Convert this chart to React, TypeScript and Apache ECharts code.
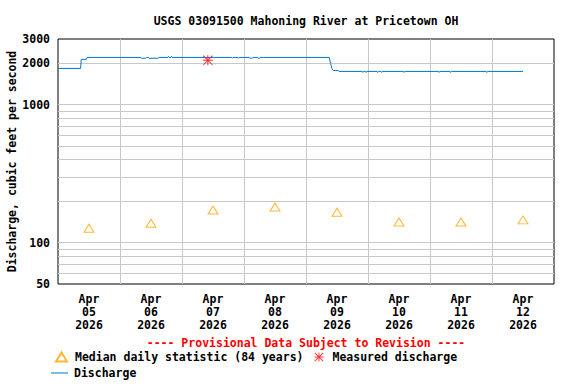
import React, { useEffect, useRef } from 'react';
import * as echarts from 'echarts';

const TITLE = 'USGS 03091500 Mahoning River at Pricetown OH';
const Y_NAME = 'Discharge, cubic feet per second';
const PROVISIONAL = '---- Provisional Data Subject to Revision ----';
const MEDIAN_NAME = 'Median daily statistic (84 years)';
const MEASURED_NAME = 'Measured discharge';
const DISCHARGE_NAME = 'Discharge';

const MONTHS = ['Jan', 'Feb', 'Mar', 'Apr', 'May', 'Jun', 'Jul', 'Aug', 'Sep', 'Oct', 'Nov', 'Dec'];

const days = ['2026-04-05', '2026-04-06', '2026-04-07', '2026-04-08', '2026-04-09', '2026-04-10', '2026-04-11', '2026-04-12'];
const xEndDay = '2026-04-13';
const medianValues = [127, 138, 172, 181, 166, 141, 141, 146];

const measuredTimes = ['2026-04-07T10:00'];
const measuredValues = [2100];

const dischargeTimes = [
  '2026-04-05T00:00', '2026-04-05T08:45', '2026-04-05T09:00', '2026-04-05T11:00', '2026-04-05T11:15',
  '2026-04-06T08:00', '2026-04-06T08:15', '2026-04-06T10:00', '2026-04-06T10:15', '2026-04-06T11:00',
  '2026-04-06T11:15', '2026-04-06T14:45', '2026-04-06T15:00', '2026-04-06T18:30', '2026-04-06T18:45',
  '2026-04-06T19:00', '2026-04-06T19:45', '2026-04-06T20:00', '2026-04-06T20:15',
  '2026-04-07T19:15', '2026-04-07T19:30', '2026-04-07T19:45', '2026-04-07T21:45', '2026-04-07T22:00',
  '2026-04-07T22:15', '2026-04-08T02:00', '2026-04-08T02:15', '2026-04-08T03:15', '2026-04-08T03:30',
  '2026-04-08T05:15', '2026-04-08T05:30', '2026-04-08T06:00', '2026-04-08T06:15', '2026-04-08T07:30',
  '2026-04-08T07:45',
  '2026-04-09T09:00', '2026-04-09T09:30', '2026-04-09T10:00', '2026-04-09T10:30', '2026-04-09T12:30',
  '2026-04-09T12:45',
  '2026-04-09T21:45', '2026-04-09T22:00', '2026-04-09T22:15', '2026-04-09T23:00', '2026-04-09T23:15',
  '2026-04-09T23:30', '2026-04-10T03:30', '2026-04-10T03:45', '2026-04-10T04:00', '2026-04-10T05:00',
  '2026-04-10T05:15', '2026-04-10T05:30', '2026-04-10T13:45', '2026-04-10T14:00', '2026-04-10T14:15',
  '2026-04-11T03:15', '2026-04-11T03:30', '2026-04-11T03:45', '2026-04-11T07:45', '2026-04-11T08:00',
  '2026-04-11T08:15', '2026-04-11T21:45', '2026-04-11T22:00', '2026-04-11T22:15', '2026-04-12T12:00',
];
const dischargeValues = [
  1835, 1835, 2135, 2135, 2205,
  2205, 2175, 2175, 2205, 2205,
  2175, 2175, 2205, 2205, 2245,
  2205, 2205, 2245, 2205,
  2205, 2175, 2205, 2205, 2175,
  2205, 2205, 2175, 2175, 2205,
  2205, 2175, 2175, 2205, 2205,
  2205,
  2205, 2000, 1835, 1774, 1774,
  1745,
  1745, 1715, 1745, 1745, 1715,
  1745, 1745, 1715, 1745, 1745,
  1715, 1745, 1745, 1715, 1745,
  1745, 1715, 1745, 1745, 1715,
  1745, 1745, 1715, 1745, 1745,
];

const yMin = 50;
const yMax = 3000;
const yTickLabels = [50, 100, 1000, 2000, 3000];
const yGridValues = [60, 70, 80, 90, 100, 200, 300, 400, 500, 600, 700, 800, 900, 1000, 2000];

const FONT = "'DejaVu Sans Mono', 'Liberation Mono', monospace";
const FS = 11.5;

const ms = (s: string) => Date.parse((s.length === 10 ? s + 'T00:00' : s) + 'Z');
const pad = (n: number) => (n < 10 ? '0' + n : String(n));

const asteriskPath =
  'path://M0 9 H20 V11 H0 Z M9 0 H11 V20 H9 Z M1.4 0 L20 18.6 L18.6 20 L0 1.4 Z M18.6 0 L20 1.4 L1.4 20 L0 18.6 Z';

export default function App() {
  const ref = useRef<HTMLDivElement>(null);

  useEffect(() => {
    document.body.style.margin = '0';
    if (!ref.current) return;
    const chart = echarts.init(ref.current, undefined, { renderer: 'svg' });

    const noonTicks = days.map((d) => ms(d + 'T12:00'));
    const midnightTicks = days.slice(1).map((d) => ms(d));

    const textBase = { fontFamily: FONT, fontSize: FS, fontWeight: 'bold' as const, color: '#000' };

    chart.setOption({
      animation: false,
      backgroundColor: '#fff',
      title: [
        {
          text: TITLE,
          left: 306,
          top: 14,
          textAlign: 'center',
          padding: 0,
          textStyle: { ...textBase, lineHeight: 14 },
        },
        {
          text: PROVISIONAL,
          left: 306,
          top: 336,
          textAlign: 'center',
          padding: 0,
          textStyle: { ...textBase, color: '#ff0000', lineHeight: 14 },
        },
      ],
      legend: [
        {
          data: [MEDIAN_NAME, MEASURED_NAME],
          left: 55,
          top: 350,
          padding: 0,
          itemGap: 11,
          itemWidth: 11,
          itemHeight: 9,
          textStyle: { ...textBase, lineHeight: 14, padding: [0, 0, 0, 3] },
        },
        {
          data: [{ name: DISCHARGE_NAME, icon: 'rect' }],
          left: 51,
          top: 366,
          padding: 0,
          itemWidth: 17,
          itemHeight: 1,
          textStyle: { ...textBase, lineHeight: 14, padding: [0, 0, 0, 1] },
        },
      ],
      grid: {
        left: 58,
        right: 22,
        top: 39,
        bottom: 100,
        outerBoundsMode: 'none',
        containLabel: false,
        show: true,
        borderColor: '#000',
        borderWidth: 1,
        backgroundColor: 'transparent',
      },
      xAxis: {
        type: 'value',
        min: ms(days[0]),
        max: ms(xEndDay),
        axisLine: { show: false },
        axisTick: { show: false, customValues: midnightTicks },
        splitLine: { show: true, lineStyle: { color: '#c8c8c8', width: 1 } },
        axisLabel: {
          customValues: noonTicks,
          margin: 8,
          ...textBase,
          lineHeight: 13,
          formatter: (v: number) => {
            const d = new Date(v);
            return `${MONTHS[d.getUTCMonth()]}\n${pad(d.getUTCDate())}\n${d.getUTCFullYear()}`;
          },
        },
      },
      yAxis: {
        type: 'log',
        logBase: 10,
        min: yMin,
        max: yMax,
        name: Y_NAME,
        nameLocation: 'middle',
        nameGap: 46,
        nameMoveOverlap: false,
        nameTextStyle: { ...textBase, verticalAlign: 'middle' },
        axisLine: { show: false },
        axisTick: { show: false, customValues: yGridValues },
        splitLine: { show: true, lineStyle: { color: '#c8c8c8', width: 1 } },
        axisLabel: {
          customValues: yTickLabels,
          margin: 8,
          ...textBase,
          formatter: (v: number) => String(Math.round(v)),
        },
      },
      series: [
        {
          name: DISCHARGE_NAME,
          type: 'line',
          data: dischargeTimes.map((t, i) => [ms(t), dischargeValues[i]]),
          showSymbol: false,
          symbol: 'none',
          lineStyle: { color: '#0077cc', width: 1 },
          itemStyle: { color: '#0077cc' },
          z: 3,
        },
        {
          name: MEDIAN_NAME,
          type: 'scatter',
          data: days.map((d, i) => [ms(d + 'T12:00'), medianValues[i]]),
          symbol: 'triangle',
          symbolSize: [10, 8],
          itemStyle: { color: 'rgba(0,0,0,0)', borderColor: '#ffa500', borderWidth: 1 },
          z: 4,
        },
        {
          name: MEASURED_NAME,
          type: 'scatter',
          data: measuredTimes.map((t, i) => [ms(t), measuredValues[i]]),
          symbol: asteriskPath,
          symbolSize: 10,
          itemStyle: { color: '#ff0000' },
          z: 5,
        },
      ],
    });

    return () => chart.dispose();
  }, []);

  return <div ref={ref} style={{ position: 'absolute', left: 0, top: 0, width: 576, height: 384 }} />;
}
